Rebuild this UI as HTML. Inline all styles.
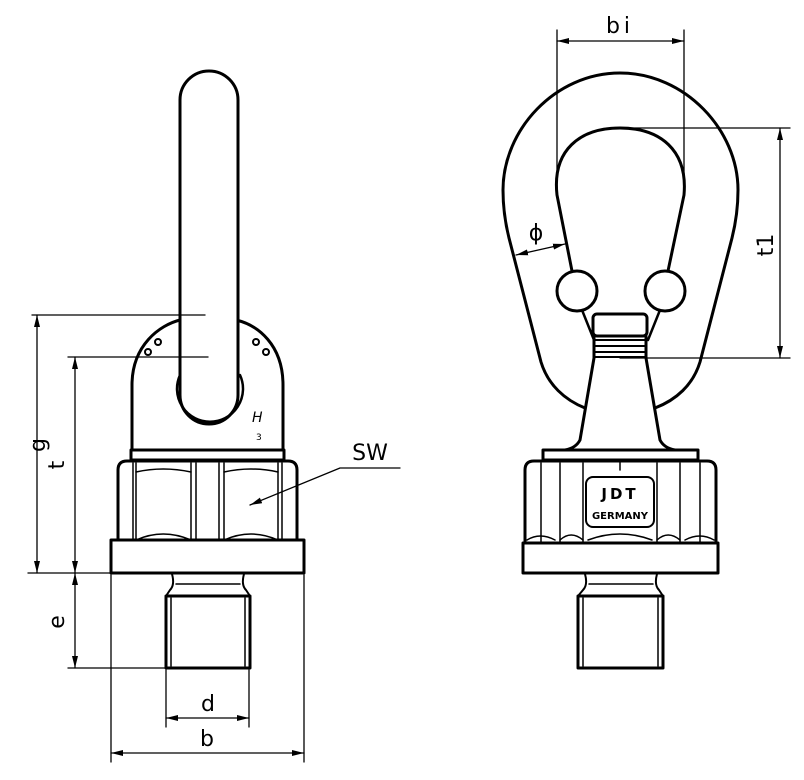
<!DOCTYPE html>
<html><head><meta charset="utf-8"><style>
html,body{margin:0;padding:0;background:#fff;}
svg{display:block;}
text{font-family:"DejaVu Sans","Liberation Sans",sans-serif;fill:#000;}
</style></head><body>
<svg width="804" height="780" viewBox="0 0 804 780" xmlns="http://www.w3.org/2000/svg">
<defs>
<marker id="a" viewBox="0 0 12 6" refX="12" refY="3" markerWidth="12" markerHeight="6" orient="auto-start-reverse" markerUnits="userSpaceOnUse"><path d="M0,0 L12,3 L0,6 z" fill="#000"/></marker>
</defs>
<g fill="none" stroke="#000" stroke-linecap="round" stroke-linejoin="round">
<!-- LEFT VIEW -->
<path d="M132,450 L132,385 C132,345 160,325 180,320 M236,320 C258,325 283,345 283,385 L283,450" stroke-width="3"/>
<rect x="131" y="450" width="153" height="10" stroke-width="3"/>
<path d="M180,100 A29,29 0 0 1 238,100 L238,395 A29,29 0 0 1 180,395 Z" stroke-width="3" fill="#fff"/>
<path d="M180,375 A33,33 0 1 0 240,375" stroke-width="2.5"/>
<g stroke-width="2"><circle cx="158" cy="342" r="3"/><circle cx="148" cy="352" r="3"/><circle cx="256" cy="342" r="3"/><circle cx="266" cy="352" r="3"/></g>
<text x="252" y="422" font-size="14" font-style="italic" stroke="none">H</text>
<text x="256" y="440" font-size="9" stroke="none">3</text>
<path d="M118,540 L118,470 Q118,461 127,461 L288,461 Q297,461 297,470 L297,540" stroke-width="3"/>
<g stroke-width="1.5">
<line x1="133" y1="463" x2="133" y2="540"/><line x1="136" y1="463" x2="136" y2="540"/>
<line x1="191" y1="463" x2="191" y2="540"/><line x1="196" y1="463" x2="196" y2="540"/>
<line x1="219" y1="463" x2="219" y2="540"/><line x1="224" y1="463" x2="224" y2="540"/>
<line x1="278" y1="463" x2="278" y2="540"/><line x1="282" y1="463" x2="282" y2="540"/>
<path d="M136,472 Q163,466 191,472 M224,472 Q251,466 278,472"/>
<path d="M136,540 Q163,528 191,540 M224,540 Q251,528 278,540"/>
</g>
<rect x="111" y="540" width="193" height="33" stroke-width="3"/>
<path d="M172,574 Q175,585 170,590 L166,596 M244,574 Q241,585 246,590 L250,596" stroke-width="2"/>
<line x1="176" y1="584" x2="240" y2="584" stroke-width="1.5"/>
<rect x="166" y="596" width="84" height="72" stroke-width="3"/>
<line x1="171" y1="598" x2="171" y2="666" stroke-width="1.5"/><line x1="245" y1="598" x2="245" y2="666" stroke-width="1.5"/>
<g stroke-width="1.3">
<line x1="32" y1="315" x2="205" y2="315"/><line x1="68" y1="357" x2="208" y2="357"/>
<line x1="28" y1="573" x2="111" y2="573"/><line x1="68" y1="668" x2="165" y2="668"/>
<line x1="37" y1="315" x2="37" y2="573" marker-start="url(#a)" marker-end="url(#a)"/>
<line x1="75" y1="357" x2="75" y2="573" marker-start="url(#a)" marker-end="url(#a)"/>
<line x1="75" y1="573" x2="75" y2="668" marker-start="url(#a)" marker-end="url(#a)"/>
<line x1="166" y1="670" x2="166" y2="727"/><line x1="249" y1="670" x2="249" y2="727"/>
<line x1="166" y1="718" x2="249" y2="718" marker-start="url(#a)" marker-end="url(#a)"/>
<line x1="111" y1="575" x2="111" y2="762"/><line x1="304" y1="575" x2="304" y2="762"/>
<line x1="111" y1="753" x2="304" y2="753" marker-start="url(#a)" marker-end="url(#a)"/>
<path d="M400,468 L340,468 L250,505" marker-end="url(#a)"/>
</g>
<!-- RIGHT VIEW -->
<path d="M585,408 C565,400 548,385 541,362 L509,238 C505,222 503,205 503,190 C503,130 555,73 620,73 C685,73 738,130 738,190 C738,205 736,222 732,238 L700,362 C693,385 676,400 655,408" stroke-width="3"/>
<path d="M572,271 L557,195 C552,150 580,128 620,128 C660,128 688,150 684,195 L668,271" stroke-width="3"/>
<circle cx="577" cy="291" r="20" stroke-width="3"/>
<circle cx="665" cy="291" r="20" stroke-width="3"/>
<path d="M582,310 L594,340 M660,310 L648,340" stroke-width="2.5"/>
<rect x="593" y="314" width="54" height="22" rx="4" stroke-width="3" fill="#fff"/>
<g stroke-width="2"><line x1="594" y1="340" x2="646" y2="340"/><line x1="594" y1="346" x2="646" y2="346"/><line x1="594" y1="352" x2="646" y2="352"/><line x1="594" y1="357" x2="646" y2="357"/></g>
<path d="M594,336 L594,358 L580,440 Q576,448 565,450 M646,336 L646,358 L660,440 Q664,448 675,450" stroke-width="3"/>
<rect x="543" y="450" width="155" height="10" stroke-width="3"/>
<path d="M525,543 L525,470 Q525,461 534,461 L707,461 Q716,461 716,470 L716,543" stroke-width="3"/>
<g stroke-width="1.5">
<line x1="541" y1="463" x2="541" y2="543"/><line x1="560" y1="463" x2="560" y2="543"/><line x1="583" y1="463" x2="583" y2="543"/>
<line x1="657" y1="463" x2="657" y2="543"/><line x1="680" y1="463" x2="680" y2="543"/><line x1="700" y1="463" x2="700" y2="543"/>
<line x1="620" y1="462" x2="620" y2="470"/>
<path d="M527,540 Q540,532 555,540 M560,540 Q571,530 583,540 M588,540 Q620,528 652,540 M657,540 Q668,530 680,540 M685,540 Q700,532 714,540"/>
</g>
<rect x="586" y="477" width="68" height="50" rx="7" stroke-width="2"/>
<text x="620" y="499" font-size="15" font-weight="bold" text-anchor="middle" stroke="none" letter-spacing="3">JDT</text>
<text x="620" y="519" font-size="10" font-weight="bold" text-anchor="middle" stroke="none">GERMANY</text>
<rect x="523" y="543" width="195" height="30" stroke-width="3"/>
<path d="M585,574 Q588,585 583,590 L578,596 M657,574 Q654,585 659,590 L663,596" stroke-width="2"/>
<line x1="589" y1="584" x2="653" y2="584" stroke-width="1.5"/>
<rect x="578" y="596" width="85" height="72" stroke-width="3"/>
<line x1="583" y1="598" x2="583" y2="666" stroke-width="1.5"/><line x1="658" y1="598" x2="658" y2="666" stroke-width="1.5"/>
<g stroke-width="1.3">
<line x1="557" y1="30" x2="557" y2="190"/><line x1="684" y1="30" x2="684" y2="190"/>
<line x1="557" y1="41" x2="684" y2="41" marker-start="url(#a)" marker-end="url(#a)"/>
<line x1="620" y1="128" x2="790" y2="128"/><line x1="620" y1="358" x2="790" y2="358"/>
<line x1="780" y1="128" x2="780" y2="358" marker-start="url(#a)" marker-end="url(#a)"/>
<line x1="516" y1="255" x2="565" y2="244" marker-start="url(#a)" marker-end="url(#a)"/>
</g>
</g>
<g stroke="none" font-size="22">
<text x="45" y="445" transform="rotate(-90 45 445)" text-anchor="middle">g</text>
<text x="64" y="465" transform="rotate(-90 64 465)" text-anchor="middle">t</text>
<text x="64" y="622" transform="rotate(-90 64 622)" text-anchor="middle">e</text>
<text x="208" y="711" text-anchor="middle">d</text>
<text x="207" y="746" text-anchor="middle">b</text>
<text x="370" y="460" text-anchor="middle">SW</text>
<text x="620" y="33" text-anchor="middle" letter-spacing="4">bi</text>
<text x="773" y="245" transform="rotate(-90 773 245)" text-anchor="middle">t1</text>
<text x="536" y="240" text-anchor="middle" font-size="22">ϕ</text>
</g>
</svg>
</body></html>
